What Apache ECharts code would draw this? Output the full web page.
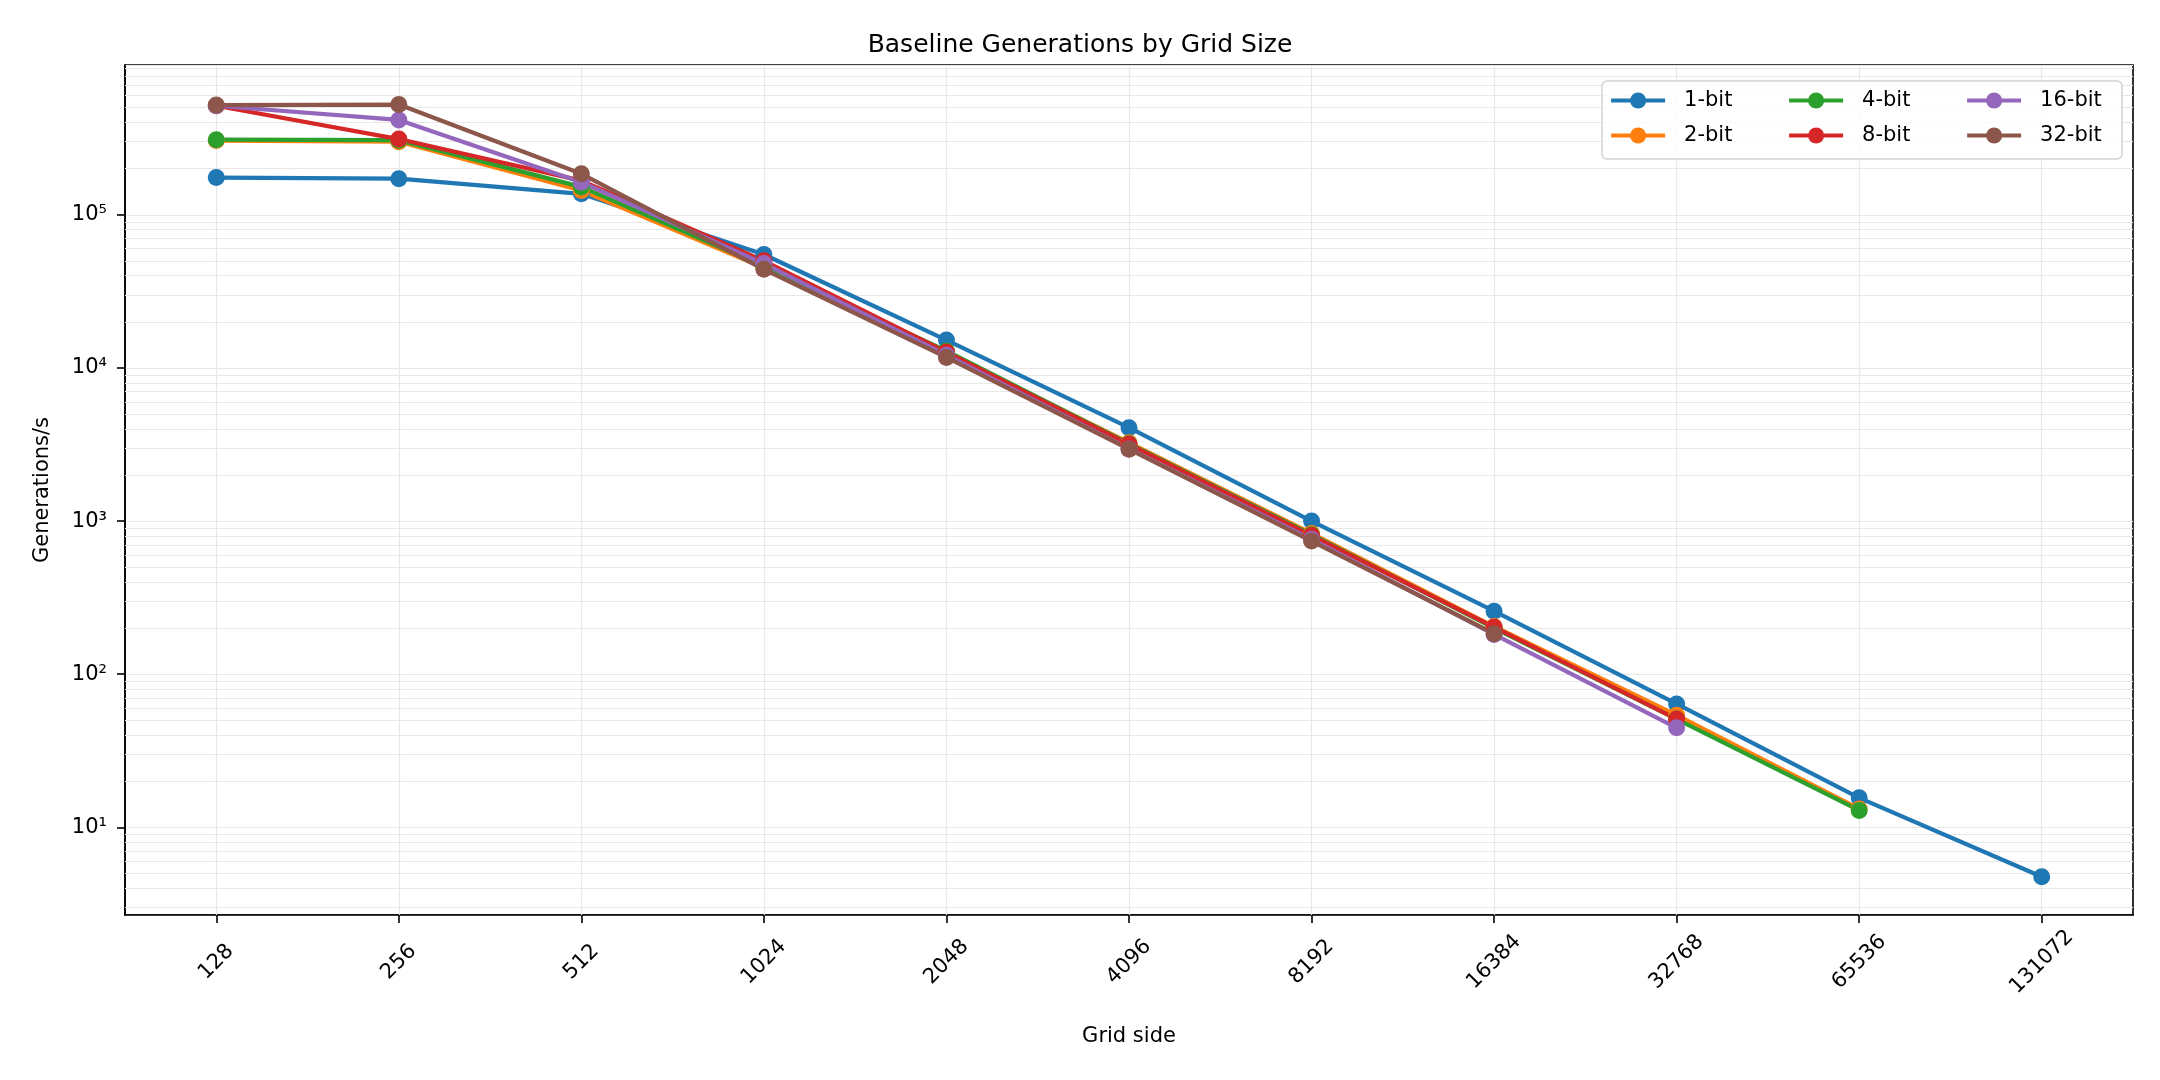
<!DOCTYPE html>
<html>
<head>
<meta charset="utf-8">
<script src="https://cdn.jsdelivr.net/npm/echarts@6/dist/echarts.min.js"></script>
<style>
  html, body { margin: 0; padding: 0; background: #fff; }
  #chart { width: 2160px; height: 1080px; }
</style>
</head>
<body>
<div id="chart"></div>
<script>
// grid sides (x categories)
const gridSides = ['128', '256', '512', '1024', '2048', '4096', '8192', '16384', '32768', '65536', '131072']

// generations per second
const bit1 = [175000, 172000, 137000, 55000, 15200, 4070, 1000, 258, 64, 15.6, 4.76]
const bit2 = [305000, 300000, 144000, 45000, 12600, 3250, 830, 205, 54, 13.2]
const bit4 = [309000, 307000, 152000, 46000, 12900, 3200, 815, 200, 51, 12.9]
const bit8 = [515000, 312000, 167000, 50000, 12700, 3170, 805, 203, 51]
const bit16 = [515000, 416000, 163000, 48000, 12100, 2960, 760, 182, 44.7]
const bit32 = [520000, 524000, 185000, 44000, 11700, 2945, 740, 184]

const seriesNames = ['1-bit', '2-bit', '4-bit', '8-bit', '16-bit', '32-bit']
const seriesValues = [bit1, bit2, bit4, bit8, bit16, bit32]
const colors = ['#1f77b4', '#ff7f0e', '#2ca02c', '#d62728', '#9467bd', '#8c564b']

const yMin = 2.68
const yMax = 950000

const FONT = 'DejaVu Sans'
const GRID_COLOR = '#e8e8e8'

// minor log gridlines (2..9 x 10^n) inside the axis range
const minorGrid = []
for (let e = 0; e <= 5; e++) {
  for (let m = 2; m <= 9; m++) {
    const v = m * Math.pow(10, e)
    if (v > yMin && v < yMax) minorGrid.push({ yAxis: v })
  }
}
const vertGrid = gridSides.map((s) => ({ xAxis: s }))

const sup = { '0': '⁰', '1': '¹', '2': '²', '3': '³', '4': '⁴', '5': '⁵', '6': '⁶' }

const chart = echarts.init(document.getElementById('chart'))

const series = seriesNames.map((name, i) => {
  const s = {
    name,
    type: 'line',
    data: seriesValues[i],
    symbol: 'circle',
    symbolSize: 17,
    showSymbol: true,
    lineStyle: { width: 4.2, color: colors[i] },
    itemStyle: { color: colors[i] },
    emphasis: { disabled: true },
  }
  if (i === 0) {
    s.markLine = {
      silent: true,
      z: 1,
      symbol: ['none', 'none'],
      label: { show: false },
      animation: false,
      lineStyle: { type: 'solid', width: 1.2, color: GRID_COLOR },
      data: minorGrid.concat(vertGrid),
    }
  }
  return s
})

const legendBase = {
  orient: 'vertical',
  top: 90,
  itemWidth: 54,
  itemHeight: 20,
  itemGap: 14,
  padding: 0,
  lineStyle: { width: 4.2 },
  textStyle: { fontFamily: FONT, fontSize: 21, color: '#000', padding: [0, 0, 0, 14] },
}

const option = {
  backgroundColor: '#fff',
  animation: false,
  color: colors,
  title: {
    text: 'Baseline Generations by Grid Size',
    left: 'center',
    top: 28,
    textStyle: { fontFamily: FONT, fontSize: 25, fontWeight: 'normal', color: '#000' },
  },
  grid: {
    left: 125,
    right: 27,
    top: 65,
    bottom: 165,
    show: true,
    borderColor: '#000',
    borderWidth: 1.6,
    backgroundColor: 'transparent',
  },
  legend: [
    Object.assign({}, legendBase, { left: 1609, data: ['1-bit', '2-bit'] }),
    Object.assign({}, legendBase, { left: 1787, data: ['4-bit', '8-bit'] }),
    Object.assign({}, legendBase, { left: 1965, data: ['16-bit', '32-bit'] }),
  ],
  graphic: [
    {
      type: 'rect',
      z: 3,
      silent: true,
      shape: { x: 1602, y: 81, width: 520, height: 78, r: 5 },
      style: { fill: 'rgba(255,255,255,0.8)', stroke: '#d3d3d3', lineWidth: 1.5 },
    },
  ],
  xAxis: {
    type: 'category',
    data: gridSides,
    boundaryGap: true,
    name: 'Grid side',
    nameLocation: 'middle',
    nameGap: 111,
    nameTextStyle: { fontFamily: FONT, fontSize: 21, color: '#000' },
    axisLine: { show: true, lineStyle: { color: '#000', width: 1.6 } },
    axisTick: { show: true, alignWithLabel: true, length: 8, lineStyle: { color: '#000', width: 1.6 } },
    axisLabel: {
      rotate: 45,
      align: 'center',
      verticalAlign: 'middle',
      margin: 47,
      fontFamily: FONT,
      fontSize: 21,
      color: '#000',
      interval: 0,
    },
    splitLine: { show: false },
  },
  yAxis: {
    type: 'log',
    logBase: 10,
    min: yMin,
    max: yMax,
    name: 'Generations/s',
    nameLocation: 'middle',
    nameGap: 72,
    nameTextStyle: { fontFamily: FONT, fontSize: 21, color: '#000' },
    axisLine: { show: true, lineStyle: { color: '#000', width: 1.6 } },
    axisTick: { show: true, length: 8, lineStyle: { color: '#000', width: 1.6 } },
    axisLabel: {
      margin: 18,
      fontFamily: FONT,
      fontSize: 21,
      color: '#000',
      showMinLabel: false,
      showMaxLabel: false,
      formatter: (v) => {
        const e = Math.log10(v)
        const r = Math.round(e)
        if (Math.abs(e - r) > 1e-6) return ''
        return '10' + String(r).split('').map((c) => sup[c]).join('')
      },
    },
    splitLine: { show: true, lineStyle: { color: GRID_COLOR, width: 1.2 } },
  },
  series,
}

chart.setOption(option)
</script>
</body>
</html>
